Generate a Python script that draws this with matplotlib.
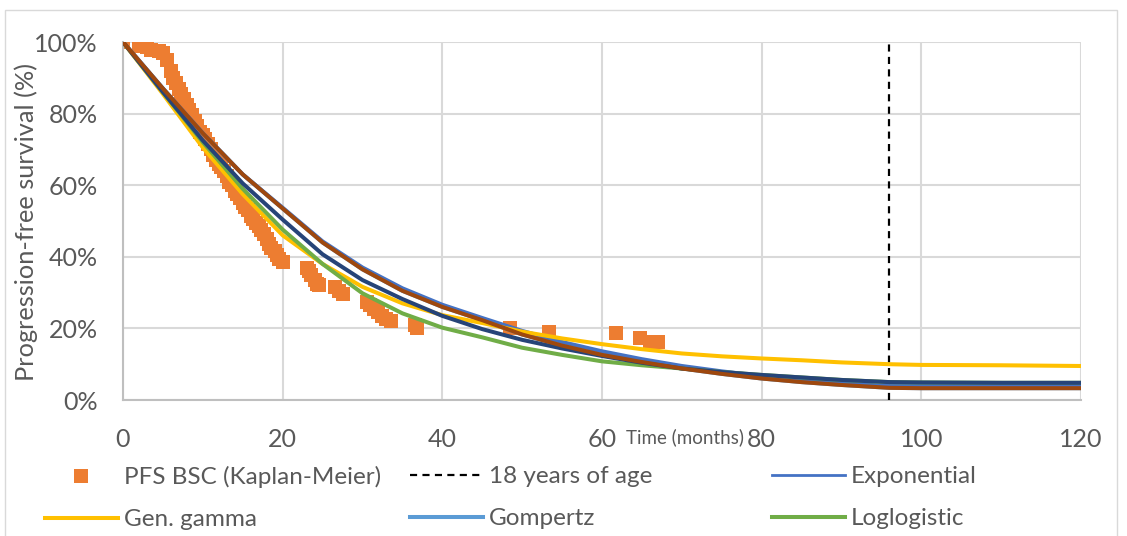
import matplotlib
matplotlib.use("Agg")
import matplotlib.pyplot as plt
from matplotlib.lines import Line2D
from matplotlib.patches import Rectangle
from matplotlib.ticker import FuncFormatter

plt.rcParams['font.family'] = ['Lato', 'DejaVu Sans']

# ---------------- data ----------------
km_time = [0, 2, 2.5, 3, 3.5, 4.5, 5, 5.5, 6, 6.3, 6.6, 7.0, 7.3, 7.6, 8.0, 8.3, 8.6,
           9.0, 9.3, 9.6, 10.0, 10.3, 10.6, 11.0, 11.3, 11.6, 12.0, 12.3, 12.6, 13.0,
           13.3, 13.6, 14.0, 14.3, 14.6, 15.0, 15.3, 15.6, 16.0, 16.3, 16.6, 17.0,
           17.3, 17.6, 18.0, 18.3, 18.6, 19.0, 19.3, 19.6, 20.0,
           23.0, 23.3, 23.6, 24.0, 24.3, 24.6, 26.6, 27.0, 27.6,
           30.6, 31.0, 31.5, 32.0, 32.5, 33.0, 33.6, 36.6, 36.8,
           48.5, 53.4, 61.8, 64.8, 66.0, 67.0]
km_surv = [100, 98.8, 98.8, 98.5, 97.8, 97.5, 97, 95, 92, 90, 88.5, 87, 85.5, 84, 82.5, 81, 79.5,
           78, 76.5, 75, 74, 73, 71.5, 70, 68.5, 67, 66, 65, 64, 62.5,
           61, 60, 58.5, 57.5, 56.5, 55, 54, 53, 51.5, 50.5, 49.5, 48.5,
           47.5, 46.5, 45, 43.5, 42.5, 41.5, 40.5, 39.5, 38.5,
           37, 36, 35, 33.5, 32.5, 32, 31.5, 30.5, 29.5,
           27.5, 26.5, 25.5, 24.5, 23.5, 22.5, 22, 21, 20,
           20, 19, 18.7, 17.3, 16.2, 16.2]

age18_time = [96, 96]
age18_surv = [0, 100]

curve_time = [0, 5, 10, 15, 20, 25, 30, 35, 40, 45, 50, 55, 60, 65, 70, 75, 80, 85, 90, 96, 100, 110, 120]
exponential = [100, 87, 74.5, 63, 53.7, 44.3, 37, 31.2, 26.6, 22.9, 19.3, 16.2, 13.6, 11.4, 9.5, 8.0, 6.7, 5.6, 4.7, 3.9, 3.9, 3.9, 3.9]
gen_gamma = [100, 85.5, 70.5, 57.5, 46, 38, 31.6, 27, 23.7, 21.5, 19.1, 17.2, 15.6, 14.2, 13.0, 12.2, 11.6, 11.1, 10.5, 10.0, 9.8, 9.7, 9.5]
gompertz = [100, 87, 74.5, 63, 53.5, 44, 36.5, 30.5, 26, 22.3, 18.3, 15.2, 12.6, 10.6, 8.8, 7.3, 6.0, 5.0, 4.2, 3.4, 3.3, 3.3, 3.3]
loglogistic = [100, 86, 72, 59, 47.6, 38, 29.8, 24.2, 20.2, 17.5, 14.6, 12.6, 10.8, 9.7, 8.8, 7.8, 7.0, 6.3, 5.6, 5.0, 4.9, 4.8, 4.8]
lognormal = [100, 86, 72.5, 60.5, 50.4, 40.7, 33.5, 28.2, 23.5, 19.8, 16.8, 14.4, 12.3, 10.4, 8.8, 7.8, 7.0, 6.3, 5.6, 5.0, 4.9, 4.8, 4.8]
weibull = [100, 87, 74.5, 63, 53.5, 44, 36.5, 30.5, 26, 22.3, 18.3, 15.2, 12.6, 10.6, 8.8, 7.3, 6.0, 5.0, 4.2, 3.4, 3.3, 3.3, 3.3]

x_ticks = [0, 20, 40, 60, 80, 100, 120]
y_ticks = [0, 20, 40, 60, 80, 100]

# ---------------- figure ----------------
W, H = 1127, 536
fig = plt.figure(figsize=(W / 100, H / 100), dpi=100)
ax = fig.add_axes([123 / W, 1 - 400 / H, (1081 - 123) / W, (400 - 42) / H])

# outer chart border
fig.patches.append(Rectangle((5 / W, -0.05), (1117 - 5) / W, 1 - 10 / H + 0.05,
                             transform=fig.transFigure, fill=False,
                             edgecolor='#D9D9D9', linewidth=1.0, zorder=0))

lw = 2.9
ax.plot(km_time, km_surv, linestyle='none', marker='s', markersize=10.5,
        color='#ED7D31', markeredgewidth=0, zorder=2)
ax.plot(age18_time, age18_surv, color='black', linestyle=(0, (3.2, 2.4)),
        linewidth=1.6, zorder=3)
ax.plot(curve_time, exponential, color='#4472C4', linewidth=lw, zorder=3,
        solid_capstyle='butt')
ax.plot(curve_time, gen_gamma, color='#FFC000', linewidth=lw, zorder=3,
        solid_capstyle='butt')
ax.plot(curve_time, gompertz, color='#5B9BD5', linewidth=lw, zorder=2.9,
        solid_capstyle='butt')
ax.plot(curve_time, loglogistic, color='#70AD47', linewidth=lw, zorder=3,
        solid_capstyle='butt')
ax.plot(curve_time, lognormal, color='#264478', linewidth=lw, zorder=3,
        solid_capstyle='butt')
ax.plot(curve_time, weibull, color='#9E480E', linewidth=lw, zorder=3,
        solid_capstyle='butt')

ax.set_xlim(0, 120)
ax.set_ylim(0, 100)
ax.set_xticks(x_ticks)
ax.set_yticks(y_ticks)
ax.yaxis.set_major_formatter(FuncFormatter(lambda v, p: f"{int(v)}%"))
ax.grid(True, color='#D9D9D9', linewidth=1.5, zorder=0)
ax.set_axisbelow(True)
for s in ['top', 'right']:
    ax.spines[s].set_visible(False)
for s in ['left', 'bottom']:
    ax.spines[s].set_color('#BFBFBF')
    ax.spines[s].set_linewidth(1.5)
ax.tick_params(axis='both', length=0, labelsize=18, labelcolor='#595959')
ax.tick_params(axis='x', pad=20)
ax.tick_params(axis='y', pad=18)

ax.set_ylabel('Progression-free survival (%)', fontsize=18.3, color='#595959')
ax.yaxis.set_label_coords(-(123 - 38) / 958, (400 - 222) / 358)
fig.text(685 / W, 1 - 437 / H, 'Time (months)', fontsize=13.5, color='#595959',
         ha='center', va='center')

# ---------------- legend (three columns) ----------------
h_km = Line2D([], [], linestyle='none', marker='s', markersize=10.5,
              color='#ED7D31', markeredgewidth=0)
h_age = Line2D([], [], color='black', linestyle=(0, (3.2, 2.4)), linewidth=1.6)
h_exp = Line2D([], [], color='#4472C4', linewidth=2.0)
h_gg = Line2D([], [], color='#FFC000', linewidth=lw)
h_gom = Line2D([], [], color='#5B9BD5', linewidth=lw)
h_ll = Line2D([], [], color='#70AD47', linewidth=lw)

leg_kw = dict(frameon=False, fontsize=17.5, labelcolor='#595959', handlelength=3.0,
              handletextpad=0.25, labelspacing=0.87, borderpad=0, borderaxespad=0,
              loc='upper left', bbox_transform=fig.transFigure)
col_x = [45, 410, 772]
top_y = 1 - 466 / H
leg1 = fig.legend([h_km, h_gg], ['PFS BSC (Kaplan-Meier)', 'Gen. gamma'],
                  bbox_to_anchor=(col_x[0] / W, top_y), **leg_kw)
leg2 = fig.legend([h_age, h_gom], ['18 years of age', 'Gompertz'],
                  bbox_to_anchor=(col_x[1] / W, top_y), **leg_kw)
leg3 = fig.legend([h_exp, h_ll], ['Exponential', 'Loglogistic'],
                  bbox_to_anchor=(col_x[2] / W, top_y), **leg_kw)

fig.savefig('out.png', dpi=100)
